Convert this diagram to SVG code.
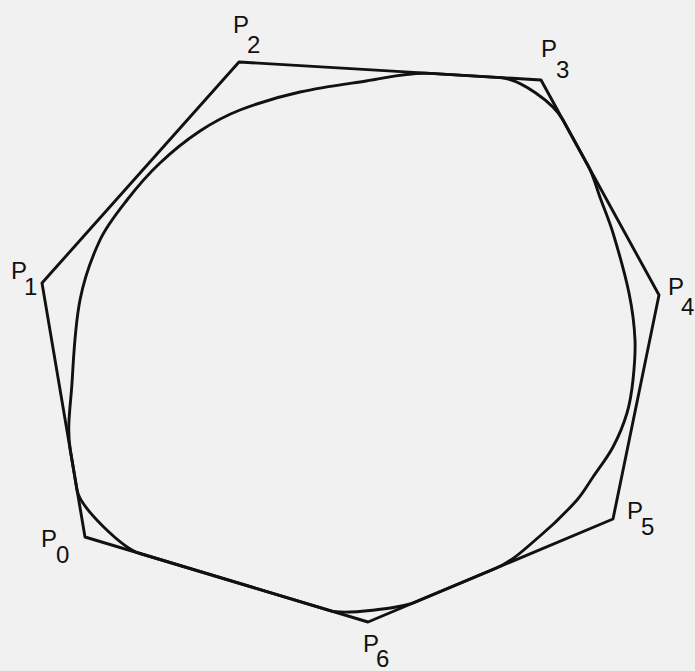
<svg xmlns="http://www.w3.org/2000/svg" width="695" height="671" viewBox="0 0 695 671">
<style>
.ln{fill:none;stroke:#111;stroke-width:2.9;stroke-linejoin:round;stroke-linecap:round}
.lb{font-family:"Liberation Sans",Arial,sans-serif;font-size:24px;fill:#111}
</style>
<rect x="0" y="0" width="695" height="671" fill="#f1f1f1"/>
<g id="connectors">
<polygon id="control-polygon" class="ln" points="85,537 42,283 239,62 541,80 659,295 613,519 368,622"/>
<path id="curve" class="ln" d="M140,553.5 C122.8,548.3 80,507.7 77,490 L70.3,450 C66.6,428 70.6,405.3 72,383 C73.8,355.3 74.7,327.3 80,300 C84.1,279.3 91,259.1 100,240 C106.8,225.4 117.1,212.7 127,200 C137.1,187 148,174.3 160,163 C172.4,151.3 185.8,140.4 200,131 C212.6,122.7 225.9,115.5 240,110 C259.5,102.4 279.6,96.5 300,92 C322.1,87.1 343.6,84.4 366,81 C387,78 406.8,72 430,73.4 L500,77.6 C520,78.8 553.4,102.5 563,120 L587.7,165 C593.7,175.9 596.6,188.3 601,200 C605.1,211 609.6,221.8 613,233 C619,252.8 624.8,272.7 629,293 C632.2,308.5 634.3,324.2 635,340 C635.6,353.3 634.4,366.8 633,380 C631.8,391.1 630.2,402.3 627,413 C623.5,424.8 618.8,436.1 613,447 C607.4,457.6 599.7,467.1 593,477 C587.8,484.7 583.2,493.1 577,500 C565.5,512.8 553.2,524.9 540,536 C525.8,548 512.1,561.8 495,568.6 L415,602.2 C401.2,608.1 344.4,615 330,610.6 Z"/>
</g>
<g id="P0"><text class="lb" x="41" y="547">P</text><text class="lb" x="56" y="563">0</text></g>
<g id="P1"><text class="lb" x="11" y="279">P</text><text class="lb" x="24" y="295">1</text></g>
<g id="P2"><text class="lb" x="233" y="33">P</text><text class="lb" x="247" y="53">2</text></g>
<g id="P3"><text class="lb" x="541" y="57">P</text><text class="lb" x="556" y="78">3</text></g>
<g id="P4"><text class="lb" x="668" y="295">P</text><text class="lb" x="681" y="315">4</text></g>
<g id="P5"><text class="lb" x="627" y="519">P</text><text class="lb" x="641" y="535">5</text></g>
<g id="P6"><text class="lb" x="363" y="652">P</text><text class="lb" x="376" y="667">6</text></g>
</svg>
